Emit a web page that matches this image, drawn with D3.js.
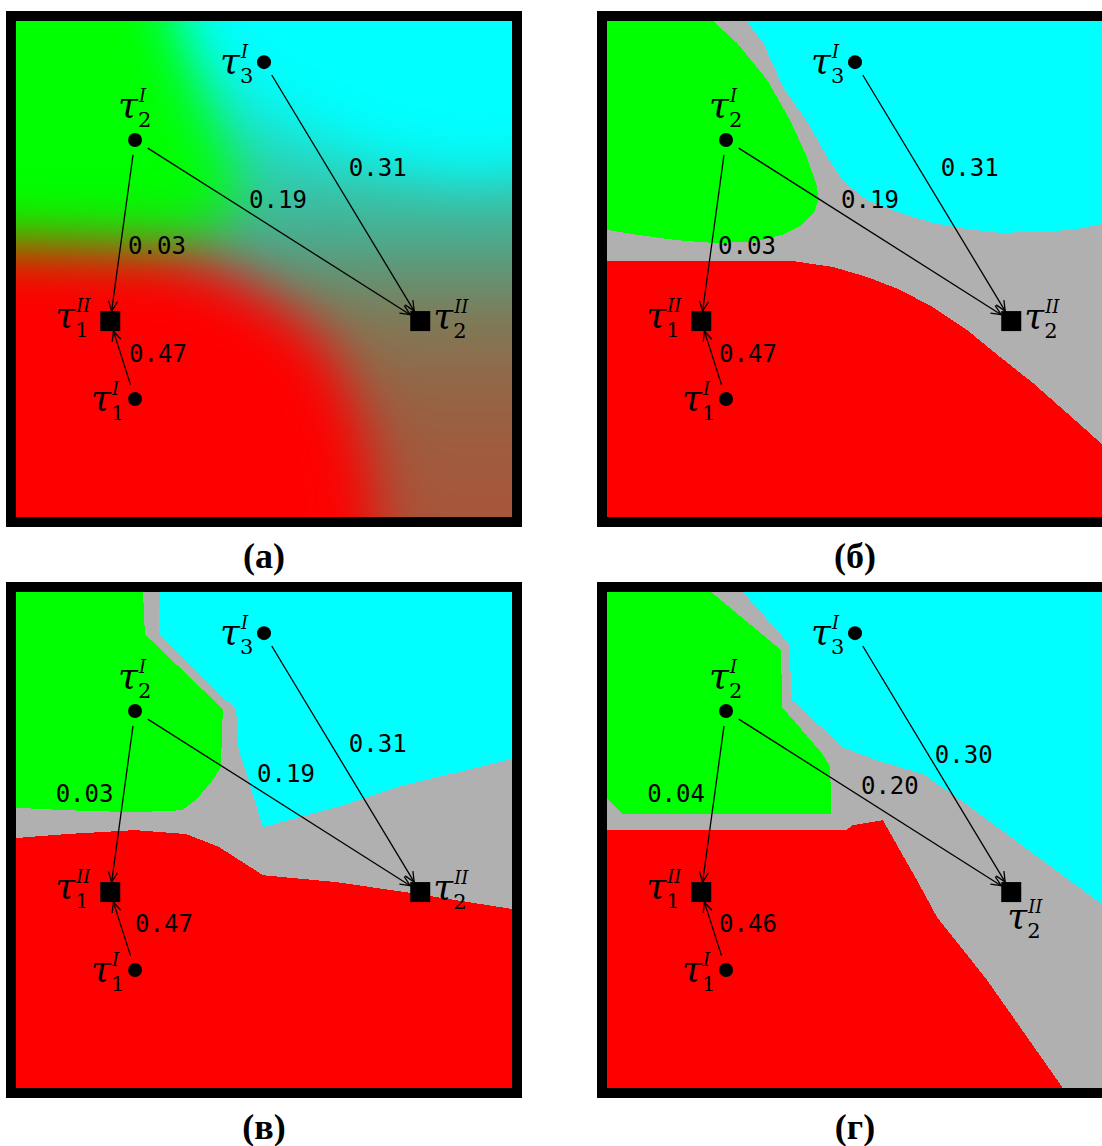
<!DOCTYPE html>
<html>
<head>
<meta charset="utf-8">
<script src="https://cdn.jsdelivr.net/npm/d3@7"></script>
<style>
  body { margin: 0; background: #fff; }
  .lbl { font-family: "DejaVu Serif", "Liberation Serif", serif; }
  .tau { font-style: italic; font-size: 36px; }
  .sup { font-style: italic; font-size: 18px; }
  .sub { font-size: 21px; }
  .wt  { font-family: "DejaVu Sans Mono", monospace; font-size: 24px; }
  .cap { font-family: "Liberation Serif", "Times New Roman", serif; font-weight: bold; font-size: 36px; }
</style>
</head>
<body>
<svg id="fig" width="1102" height="1146"></svg>
<script>
// ---- graph nodes (plane units 0..100, y pointing down) ----
const nodeIds  = ["t1I", "t2I", "t3I", "t1II", "t2II"];
const nodeX    = [24.0, 24.0, 50.0, 19.0, 81.5];
const nodeY    = [76.2, 24.0, 8.3, 60.5, 60.5];
const nodeKind = ["dot", "dot", "dot", "square", "square"];
const nodeSub  = ["1", "2", "3", "1", "2"];
const nodeSup  = ["I", "I", "I", "II", "II"];
const nodeSideMain = ["left", "above", "left", "left", "right"];
const nodeSideLast = ["left", "above", "left", "left", "below"];

// ---- weighted edges ----
const edgeSource = ["t1I", "t2I", "t2I", "t3I"];
const edgeTarget = ["t1II", "t1II", "t2II", "t2II"];
const weightsA = [0.47, 0.03, 0.19, 0.31];
const weightsB = [0.47, 0.03, 0.19, 0.31];
const weightsC = [0.47, 0.03, 0.19, 0.31];
const weightsD = [0.46, 0.04, 0.20, 0.30];
// weight label anchors [x, y] (left end, baseline)
const wLabelsA = [[22.8, 68.8], [22.6, 47.0], [47.0, 37.7], [67.1, 31.3]];
const wLabelsB = [[22.6, 68.8], [22.4, 47.0], [47.2, 37.7], [67.3, 31.3]];
const wLabelsC = [[24.0, 68.5], [8.0, 42.3], [48.6, 38.3], [67.1, 32.3]];
const wLabelsD = [[22.6, 68.5], [8.1, 42.3], [51.2, 40.7], [66.1, 34.5]];

const panelCaptions = ["(а)", "(б)", "(в)", "(г)"];

// ---- soft membership field of panel (а) ----
const fieldStops = [[0, "#00ffff"], [0.28, "#28d7be"], [0.44, "#4baa8c"], [0.6, "#827855"], [0.8, "#9b5f41"], [1, "#a8553a"]];
const fieldGreen = [[-20, -20], [28.2, -20], [32.3, 0], [37.3, 14.1], [43.3, 28.2], [45.4, 36.3], [40, 41.5], [30, 44.2], [0, 45.0], [-20, 45.0]];
const fieldCyan  = [[30.2, -20], [120, -20], [120, 28.2], [90.7, 32.3], [70.6, 28.2], [54.4, 20.2], [42.3, 10.1], [35.3, 0]];
const fieldRed   = [[-20, 45.0], [0, 45.0], [30, 46.5], [40, 49], [50.4, 54.8], [60.5, 62.5], [66.5, 72.6], [70.6, 84.7], [72.6, 100], [72.6, 120], [-20, 120]];

// ---- crisp decision regions of panels (б), (в), (г) ----
const greenB = [[0,0],[21.4,0],[26.2,4.4],[32.3,11.9],[36.9,20.0],[40.3,27.4],[42.3,33.3],[42.7,35.9],[41.7,38.7],[39.3,41.1],[35.3,43.1],[30.2,44.4],[22.2,44.8],[14.1,44.2],[6.0,43.1],[0,42.1]];
const cyanB  = [[28.2,0],[100,0],[100,40.9],[94.8,41.9],[89.3,42.5],[79.2,42.7],[70.6,41.7],[65.7,40.7],[59.1,38.7],[52.4,36.1],[47.6,32.3],[44.4,27.4],[40.5,20.6],[35.5,13.3],[31.5,4.4]];
const redB   = [[0,48.4],[37.5,48.4],[45.6,49.6],[52.4,51.6],[59.1,54.2],[65.7,57.7],[72.6,62.3],[79.2,67.7],[85.9,73.0],[92.7,79.0],[100,85.5],[100,100],[0,100]];

const greenC = [[0,0],[25.6,0],[26.0,8.5],[41.7,23.6],[41.3,35.3],[39.7,37.9],[36.3,41.9],[33.5,44.0],[24.0,44.4],[10.3,44.0],[0,43.5]];
const cyanC  = [[29.0,0],[100,0],[100,33.7],[78.4,38.9],[64.9,43.3],[49.8,47.4],[44.8,31.3],[44.4,23.8],[28.8,8.5]];
const redC   = [[0,49.6],[10.3,48.8],[24.0,48.0],[34.3,48.8],[40.9,51.4],[49.8,57.1],[64.7,58.5],[78.4,60.5],[100,63.9],[100,100],[0,100]];

const greenD = [[0,0],[21.0,0],[35.1,11.7],[35.3,23.2],[43.5,32.7],[45.0,35.3],[45.2,44.8],[3.2,44.8],[0,41.7]];
const cyanD  = [[27.4,0],[100,0],[100,63.1],[70.4,41.3],[63.7,36.7],[54.2,33.9],[47.6,31.3],[37.1,21.6],[36.9,10.7]];
const redD   = [[0,48.0],[48.2,48.0],[49.6,47.0],[55.6,46.0],[62.5,58.1],[66.5,65.5],[76.6,78.2],[91.9,100],[0,100]];

const COLORS = { red: "#ff0000", green: "#00ff00", cyan: "#00ffff", none: "#b0b0b0" };
const regionColors = [COLORS.green, COLORS.cyan, COLORS.red];

// ---- layout ----
const SIZE = 496, BORDER = 10;
const panels = [
  { ox: 16,  oy: 21,  weights: weightsA, wl: wLabelsA, side: nodeSideMain, soft: [fieldGreen, fieldCyan, fieldRed] },
  { ox: 607, oy: 21,  weights: weightsB, wl: wLabelsB, side: nodeSideMain, regions: [greenB, cyanB, redB] },
  { ox: 16,  oy: 592, weights: weightsC, wl: wLabelsC, side: nodeSideMain, regions: [greenC, cyanC, redC] },
  { ox: 607, oy: 592, weights: weightsD, wl: wLabelsD, side: nodeSideLast, regions: [greenD, cyanD, redD] }
];

const svg = d3.select("#fig");
svg.append("rect").attr("width", 1102).attr("height", 1146).attr("fill", "#fff");
const defs = svg.append("defs");

defs.append("marker")
  .attr("id", "arrowhead")
  .attr("viewBox", "-1 -6 12 12")
  .attr("refX", 10).attr("refY", 0)
  .attr("markerWidth", 12).attr("markerHeight", 12)
  .attr("markerUnits", "userSpaceOnUse")
  .attr("orient", "auto")
  .append("path")
  .attr("d", "M0,-4.5L10,0L0,4.5")
  .attr("fill", "none").attr("stroke", "#000").attr("stroke-width", 1.3);

const nodeIndex = id => nodeIds.indexOf(id);

// τ with stacked superscript / subscript, as one text element
function tauLabel(g, x, y, sub, sup) {
  const t = g.append("text").attr("class", "lbl").attr("x", x).attr("y", y);
  t.append("tspan").attr("class", "tau").text("τ");
  const s = t.append("tspan").attr("class", "sup").attr("dx", 1).attr("dy", -15).text(sup);
  const sw = s.node().getComputedTextLength();
  t.append("tspan").attr("class", "sub").attr("dx", -sw - 1).attr("dy", 25).text(sub);
}

const sideOffset = {
  "left-dot": [-44, 11], "above-dot": [-17, -23],
  "left-square": [-55, 6], "right-square": [13, 7], "below-square": [-4, 36]
};

// Gaussian blur of an RGB raster (separable, clamped edges)
function blurRGB(img, w, h, sigma) {
  const r = Math.ceil(sigma * 3), k = [];
  let sum = 0;
  for (let i = -r; i <= r; i++) { const v = Math.exp(-i * i / (2 * sigma * sigma)); k.push(v); sum += v; }
  for (let i = 0; i < k.length; i++) k[i] /= sum;
  const d = img.data, a = new Float32Array(w * h * 3), b = new Float32Array(w * h * 3);
  for (let i = 0; i < w * h; i++) { a[i*3] = d[i*4]; a[i*3+1] = d[i*4+1]; a[i*3+2] = d[i*4+2]; }
  for (let yy = 0; yy < h; yy++) for (let xx = 0; xx < w; xx++) {
    let c0 = 0, c1 = 0, c2 = 0;
    for (let j = -r; j <= r; j++) {
      const xs = Math.min(w - 1, Math.max(0, xx + j)), o = (yy * w + xs) * 3, kv = k[j + r];
      c0 += a[o] * kv; c1 += a[o+1] * kv; c2 += a[o+2] * kv;
    }
    const o = (yy * w + xx) * 3; b[o] = c0; b[o+1] = c1; b[o+2] = c2;
  }
  for (let yy = 0; yy < h; yy++) for (let xx = 0; xx < w; xx++) {
    let c0 = 0, c1 = 0, c2 = 0;
    for (let j = -r; j <= r; j++) {
      const ys = Math.min(h - 1, Math.max(0, yy + j)), o = (ys * w + xx) * 3, kv = k[j + r];
      c0 += b[o] * kv; c1 += b[o+1] * kv; c2 += b[o+2] * kv;
    }
    const i = yy * w + xx;
    d[i*4] = c0; d[i*4+1] = c1; d[i*4+2] = c2; d[i*4+3] = 255;
  }
  return img;
}

// soft field rendered to a raster and placed as an image
function softField(polys) {
  const res = 0.5, pad = 100;
  const N = Math.round((SIZE + 2 * pad) * res), inner = Math.round(SIZE * res), off = Math.round(pad * res);
  const cv = document.createElement("canvas"); cv.width = N; cv.height = N;
  const ctx = cv.getContext("2d");
  const xr = d3.scaleLinear().domain([0, 100]).range([off, off + inner]);
  const yr = d3.scaleLinear().domain([0, 100]).range([off, off + inner]);
  const grad = ctx.createLinearGradient(0, yr(0), 0, yr(100));
  fieldStops.forEach(s => grad.addColorStop(s[0], s[1]));
  ctx.fillStyle = grad; ctx.fillRect(0, 0, N, N);
  const path = d3.line().x(d => xr(d[0])).y(d => yr(d[1])).context(ctx);
  polys.forEach((poly, i) => {
    ctx.beginPath(); path(poly); ctx.closePath();
    ctx.fillStyle = regionColors[i]; ctx.fill();
  });
  const img = blurRGB(ctx.getImageData(0, 0, N, N), N, N, 27 * res);
  ctx.putImageData(img, 0, 0);
  const out = document.createElement("canvas"); out.width = inner; out.height = inner;
  out.getContext("2d").drawImage(cv, off, off, inner, inner, 0, 0, inner, inner);
  return out.toDataURL("image/png");
}

panels.forEach((p, pi) => {
  const x = d3.scaleLinear().domain([0, 100]).range([p.ox, p.ox + SIZE]);
  const y = d3.scaleLinear().domain([0, 100]).range([p.oy, p.oy + SIZE]);
  const line = d3.line().x(d => x(d[0])).y(d => y(d[1])).curve(d3.curveLinearClosed);

  const clipId = "clip" + pi;
  defs.append("clipPath").attr("id", clipId)
    .append("rect").attr("x", p.ox).attr("y", p.oy).attr("width", SIZE).attr("height", SIZE);

  const g = svg.append("g");
  const area = g.append("g").attr("clip-path", `url(#${clipId})`);

  if (p.soft) {
    area.append("image")
      .attr("x", p.ox).attr("y", p.oy).attr("width", SIZE).attr("height", SIZE)
      .attr("preserveAspectRatio", "none")
      .attr("href", softField(p.soft));
  } else {
    area.append("rect").attr("x", p.ox).attr("y", p.oy).attr("width", SIZE).attr("height", SIZE)
      .attr("fill", COLORS.none);
    p.regions.forEach((poly, i) => {
      area.append("path").attr("d", line(poly)).attr("fill", regionColors[i])
        .attr("shape-rendering", "crispEdges");
    });
  }

  // frame
  g.append("rect")
    .attr("x", p.ox - BORDER / 2).attr("y", p.oy - BORDER / 2)
    .attr("width", SIZE + BORDER).attr("height", SIZE + BORDER)
    .attr("fill", "none").attr("stroke", "#000").attr("stroke-width", BORDER);

  // edges and their weights
  edgeSource.forEach((s, ei) => {
    const a = nodeIndex(s), b = nodeIndex(edgeTarget[ei]);
    const sx = x(nodeX[a]), sy = y(nodeY[a]);
    const tx = x(nodeX[b]), ty = y(nodeY[b]);
    const dx = tx - sx, dy = ty - sy, len = Math.hypot(dx, dy);
    const k = 10 / Math.max(Math.abs(dx), Math.abs(dy));
    g.append("line")
      .attr("x1", sx + dx / len * 15).attr("y1", sy + dy / len * 15)
      .attr("x2", tx - dx * k).attr("y2", ty - dy * k)
      .attr("stroke", "#000").attr("stroke-width", 1.3)
      .attr("marker-end", "url(#arrowhead)");
    g.append("text").attr("class", "wt")
      .attr("x", x(p.wl[ei][0])).attr("y", y(p.wl[ei][1]))
      .text(p.weights[ei].toFixed(2));
  });

  // nodes
  nodeIds.forEach((id, i) => {
    const cx = x(nodeX[i]), cy = y(nodeY[i]);
    if (nodeKind[i] === "dot") {
      g.append("circle").attr("cx", cx).attr("cy", cy).attr("r", 7).attr("fill", "#000");
    } else {
      g.append("rect").attr("x", cx - 10).attr("y", cy - 10).attr("width", 20).attr("height", 20).attr("fill", "#000");
    }
    const off = sideOffset[p.side[i] + "-" + nodeKind[i]];
    tauLabel(g, cx + off[0], cy + off[1], nodeSub[i], nodeSup[i]);
  });

  // caption
  svg.append("text").attr("class", "cap")
    .attr("x", x(50)).attr("y", y(100) + 51)
    .attr("text-anchor", "middle")
    .text(panelCaptions[pi]);
});
</script>
</body>
</html>
